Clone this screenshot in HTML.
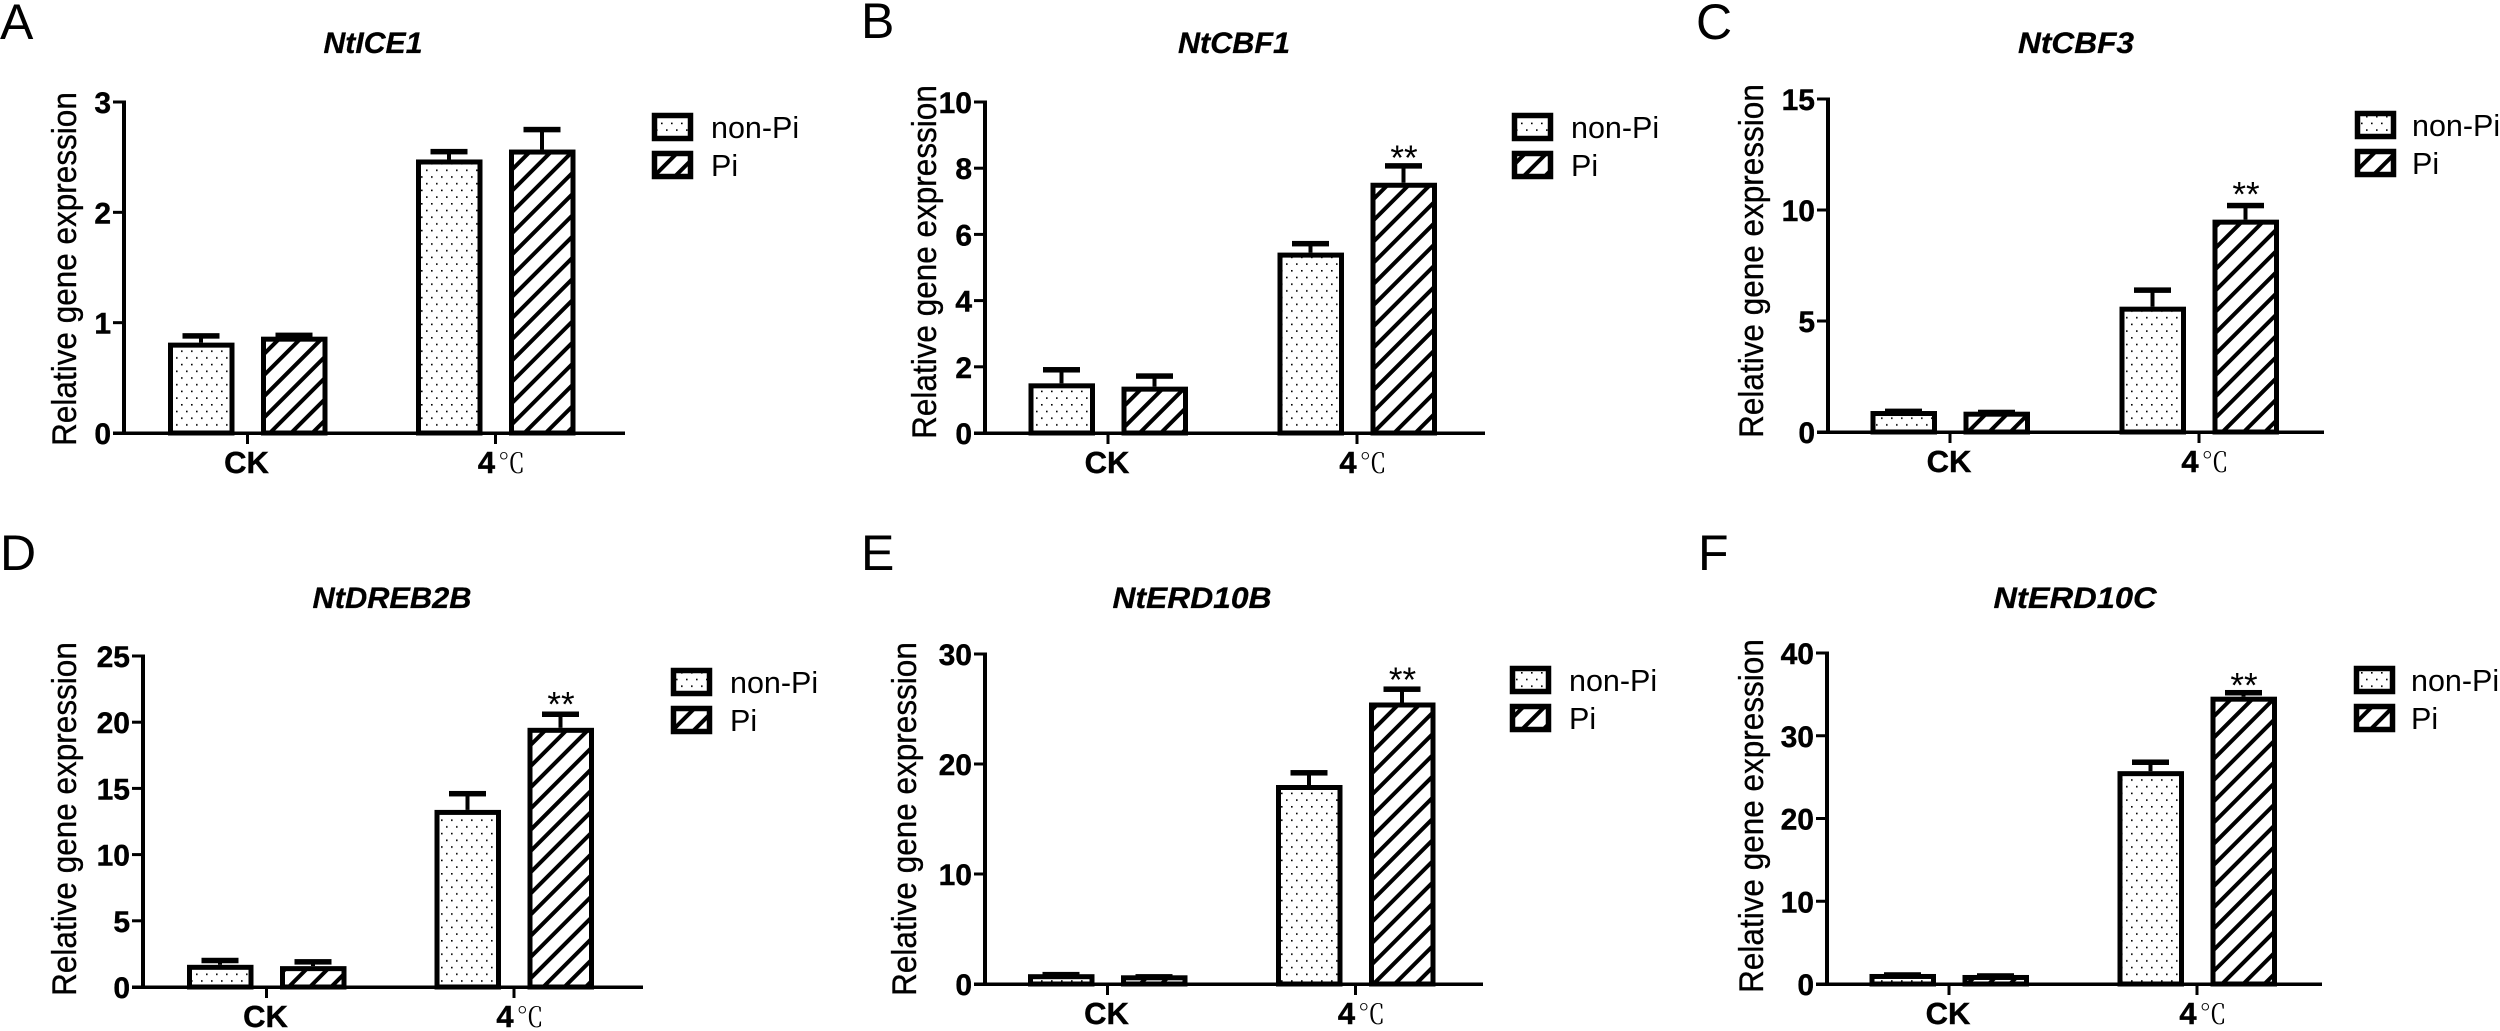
<!DOCTYPE html>
<html lang="en">
<head>
<meta charset="utf-8">
<title>Relative gene expression panels</title>
<style>
html,body{margin:0;padding:0;background:#fff;width:2500px;height:1031px;overflow:hidden}
svg{display:block}
text{font-family:"Liberation Sans","Noto Sans CJK SC",sans-serif;fill:#000}
.letter{font-size:50px}
.title{font-size:29.5px;font-weight:bold;font-style:italic;text-anchor:middle;stroke:#000;stroke-width:.3px}
.ytitle{font-size:31.5px;text-anchor:middle;stroke:#000;stroke-width:.3px}
.legend{font-size:30.5px}
.tick{font-size:30px;font-weight:bold;text-anchor:end;stroke:#000;stroke-width:.4px}
.cat{font-size:31px;font-weight:bold;text-anchor:middle;stroke:#000;stroke-width:.4px}
.deg{font-family:"Noto Serif CJK SC","Liberation Serif",serif;font-size:27px;font-weight:normal;stroke:none}
.star{font-size:35px;text-anchor:middle}
.swatch{stroke:#000;stroke-width:5.5px}
</style>
</head>
<body>
<svg id="figure" xmlns="http://www.w3.org/2000/svg" width="2500" height="1031" viewBox="0 0 2500 1031">
<defs>
<pattern id="dots" patternUnits="userSpaceOnUse" width="10" height="13.4">
<rect x="1" y="2" width="1.6" height="1.6" fill="#000"/>
<rect x="6" y="8.7" width="1.6" height="1.6" fill="#000"/>
</pattern>
<pattern id="hatch" patternUnits="userSpaceOnUse" width="15" height="15" patternTransform="rotate(-45)">
<rect x="0" y="0" width="15" height="4" fill="#000"/>
</pattern>
</defs>
<rect x="0" y="0" width="2500" height="1031" fill="#fff"/>

<g id="panel-a">
<text class="letter" x="0" y="39">A</text>
<text class="title" x="373" y="53" textLength="99" lengthAdjust="spacingAndGlyphs">NtICE1</text>
<text class="ytitle" transform="translate(76,269) rotate(-90) scale(1,1.1)">Relative gene expression</text>
<g>
<rect class="swatch" x="654.5" y="115.5" width="36" height="23" fill="url(#dots)"/>
<text class="legend" x="711" y="138">non-Pi</text>
<rect class="swatch" x="654.5" y="153.5" width="36" height="23" fill="url(#hatch)"/>
<text class="legend" x="711" y="176">Pi</text>
</g>
</g>

<g id="panel-b">
<text class="letter" x="861" y="38">B</text>
<text class="title" x="1234" y="53" textLength="112" lengthAdjust="spacingAndGlyphs">NtCBF1</text>
<text class="ytitle" transform="translate(936,262) rotate(-90) scale(1,1.1)">Relative gene expression</text>
<g>
<rect class="swatch" x="1514.5" y="115.5" width="36" height="23" fill="url(#dots)"/>
<text class="legend" x="1571" y="138">non-Pi</text>
<rect class="swatch" x="1514.5" y="153.5" width="36" height="23" fill="url(#hatch)"/>
<text class="legend" x="1571" y="176">Pi</text>
</g>
</g>

<g id="panel-c">
<text class="letter" x="1696" y="39">C</text>
<text class="title" x="2076" y="53" textLength="116" lengthAdjust="spacingAndGlyphs">NtCBF3</text>
<text class="ytitle" transform="translate(1763,261) rotate(-90) scale(1,1.1)">Relative gene expression</text>
<g>
<rect class="swatch" x="2357.5" y="113.5" width="36" height="23" fill="url(#dots)"/>
<text class="legend" x="2412" y="136">non-Pi</text>
<rect class="swatch" x="2357.5" y="151.5" width="36" height="23" fill="url(#hatch)"/>
<text class="legend" x="2412" y="174">Pi</text>
</g>
</g>

<g id="panel-d">
<text class="letter" x="0" y="570">D</text>
<text class="title" x="392" y="608" textLength="159" lengthAdjust="spacingAndGlyphs">NtDREB2B</text>
<text class="ytitle" transform="translate(76,819) rotate(-90) scale(1,1.1)">Relative gene expression</text>
<g>
<rect class="swatch" x="673.5" y="670.5" width="36" height="23" fill="url(#dots)"/>
<text class="legend" x="730" y="693">non-Pi</text>
<rect class="swatch" x="673.5" y="708.5" width="36" height="23" fill="url(#hatch)"/>
<text class="legend" x="730" y="731">Pi</text>
</g>
</g>

<g id="panel-e">
<text class="letter" x="861" y="570">E</text>
<text class="title" x="1192" y="608" textLength="159" lengthAdjust="spacingAndGlyphs">NtERD10B</text>
<text class="ytitle" transform="translate(916,819) rotate(-90) scale(1,1.1)">Relative gene expression</text>
<g>
<rect class="swatch" x="1512.5" y="668.5" width="36" height="23" fill="url(#dots)"/>
<text class="legend" x="1569" y="691">non-Pi</text>
<rect class="swatch" x="1512.5" y="706.5" width="36" height="23" fill="url(#hatch)"/>
<text class="legend" x="1569" y="729">Pi</text>
</g>
</g>

<g id="panel-f">
<text class="letter" x="1698" y="570">F</text>
<text class="title" x="2075" y="608" textLength="163" lengthAdjust="spacingAndGlyphs">NtERD10C</text>
<text class="ytitle" transform="translate(1763,816) rotate(-90) scale(1,1.1)">Relative gene expression</text>
<g>
<rect class="swatch" x="2356.5" y="668.5" width="36" height="23" fill="url(#dots)"/>
<text class="legend" x="2411" y="691">non-Pi</text>
<rect class="swatch" x="2356.5" y="706.5" width="36" height="23" fill="url(#hatch)"/>
<text class="legend" x="2411" y="729">Pi</text>
</g>
</g>
</svg>

<script>
const categories = ['CK', '4℃'];

const ticksA = ['0', '1', '2', '3'];
const nonPiA = [0.81, 2.47];
const piA = [0.864, 2.56];
const nonPiUpperA = [0.88, 2.55];
const piUpperA = [0.885, 2.75];
const starsA = ['', ''];

const ticksB = ['0', '2', '4', '6', '8', '10'];
const nonPiB = [1.47, 5.42];
const piB = [1.37, 7.53];
const nonPiUpperB = [1.91, 5.72];
const piUpperB = [1.72, 8.07];
const starsB = ['', '**'];

const ticksC = ['0', '5', '10', '15'];
const nonPiC = [0.9, 5.6];
const piC = [0.87, 9.52];
const nonPiUpperC = [0.93, 6.39];
const piUpperC = [0.88, 10.2];
const starsC = ['', '**'];

const ticksD = ['0', '5', '10', '15', '20', '25'];
const nonPiD = [1.6, 13.3];
const piD = [1.5, 19.5];
const nonPiUpperD = [2.0, 14.6];
const piUpperD = [1.9, 20.6];
const starsD = ['', '**'];

const ticksE = ['0', '10', '20', '30'];
const nonPiE = [0.8, 18.0];
const piE = [0.7, 25.5];
const nonPiUpperE = [0.85, 19.2];
const piUpperE = [0.65, 26.8];
const starsE = ['', '**'];

const ticksF = ['0', '10', '20', '30', '40'];
const nonPiF = [1.09, 25.6];
const piF = [0.97, 34.6];
const nonPiUpperF = [1.09, 26.8];
const piUpperF = [0.97, 35.2];
const starsF = ['', '**'];

const NS = 'http://www.w3.org/2000/svg';

function make(tag, parent, attrs, content) {
  const el = document.createElementNS(NS, tag);
  Object.keys(attrs).forEach(function (k) { el.setAttribute(k, attrs[k]); });
  if (content !== undefined) el.textContent = content;
  parent.appendChild(el);
  return el;
}

function drawPanel(cfg) {
  const root = document.getElementById(cfg.id);
  const yMax = parseFloat(cfg.ticks[cfg.ticks.length - 1]);
  const y = function (v) { return cfg.base - (v / yMax) * (cfg.base - cfg.top); };
  const x = function (i) { return cfg.centers[i]; };

  const axes = make('g', root, {});
  
  

  cfg.ticks.forEach(function (label) {
    const ty = y(parseFloat(label));
    const mark = make('rect', axes, { x: cfg.axis - 11, y: ty - 1.5, width: 11, height: 3, fill: '#000' });
    
    
    const t = make('text', axes, { class: 'tick', x: cfg.axis - 13, y: ty + 11 }, label);
    
    
  });

  categories.forEach(function (name, i) {
    const bars = [
      { v: cfg.nonPi[i], u: cfg.nonPiUpper[i], off: -79.5, fill: 'url(#dots)', s: 'non-pi' },
      { v: cfg.pi[i], u: cfg.piUpper[i], off: 13.5, fill: 'url(#hatch)', s: 'pi' }
    ];
    bars.forEach(function (b) {
      const left = x(i) + b.off;
      const mid = left + 33;
      const barTop = y(b.v) - 1;
      const stem = make('rect', root, { x: mid - 2, y: y(b.u), width: 4, height: Math.max(0, barTop - y(b.u)), fill: '#000' });
      
      
      const cap = make('rect', root, { x: mid - 18.5, y: y(b.u) - 2.75, width: 37, height: 5.5, fill: '#000' });
      
      
      const bar = make('rect', root, { x: left + 2.5, y: barTop + 2.5, width: 61.5, height: Math.max(0, cfg.base - barTop - 2.5), fill: b.fill, stroke: '#000', 'stroke-width': 5 });
      
      
    });

    const star = cfg.stars[i];
    if (star) {
      const s = make('text', root, { class: 'star', x: x(i) + 47, y: y(cfg.piUpper[i]) + cfg.starDy }, star);
      
      
    }

    const xt = make('rect', axes, { x: x(i) - 1.5, y: cfg.base, width: 3, height: 11, fill: '#000' });
    
    

    const lab = make('text', axes, { class: 'cat', x: x(i) + (name === 'CK' ? -1 : 6), y: cfg.base + 40 });
    
    
    if (name.indexOf('℃') >= 0) {
      make('tspan', lab, {}, name.replace('℃', ''));
      make('tspan', lab, { class: 'deg', dx: 3 }, '℃');
    } else {
      lab.textContent = name;
    }
  });

  const yLine = make('rect', axes, { x: cfg.axis - 2, y: cfg.top - 1.5, width: 4, height: cfg.base - cfg.top + 3, fill: '#000' });
  
  
  const xLine = make('rect', axes, { x: cfg.axis - 11, y: cfg.base - 1.5, width: cfg.end - cfg.axis + 11, height: 3.5, fill: '#000' });
  
  
}

drawPanel({ id: 'panel-a', axis: 124, top: 102, base: 433, end: 625, centers: [247.5, 495.5], starDy: 0, ticks: ticksA, nonPi: nonPiA, pi: piA, nonPiUpper: nonPiUpperA, piUpper: piUpperA, stars: starsA });
drawPanel({ id: 'panel-b', axis: 985, top: 102, base: 433, end: 1485, centers: [1108, 1357], starDy: 4, ticks: ticksB, nonPi: nonPiB, pi: piB, nonPiUpper: nonPiUpperB, piUpper: piUpperB, stars: starsB });
drawPanel({ id: 'panel-c', axis: 1828, top: 99, base: 432, end: 2324, centers: [1950, 2199], starDy: 1, ticks: ticksC, nonPi: nonPiC, pi: piC, nonPiUpper: nonPiUpperC, piUpper: piUpperC, stars: starsC });
drawPanel({ id: 'panel-d', axis: 143, top: 656, base: 987, end: 643, centers: [266.5, 514], starDy: 2, ticks: ticksD, nonPi: nonPiD, pi: piD, nonPiUpper: nonPiUpperD, piUpper: piUpperD, stars: starsD });
drawPanel({ id: 'panel-e', axis: 985, top: 654, base: 984, end: 1483, centers: [1107.5, 1355.5], starDy: 3, ticks: ticksE, nonPi: nonPiE, pi: piE, nonPiUpper: nonPiUpperE, piUpper: piUpperE, stars: starsE });
drawPanel({ id: 'panel-f', axis: 1827, top: 653, base: 984, end: 2322, centers: [1949, 2197], starDy: 5, ticks: ticksF, nonPi: nonPiF, pi: piF, nonPiUpper: nonPiUpperF, piUpper: piUpperF, stars: starsF });
</script>
</body>
</html>
